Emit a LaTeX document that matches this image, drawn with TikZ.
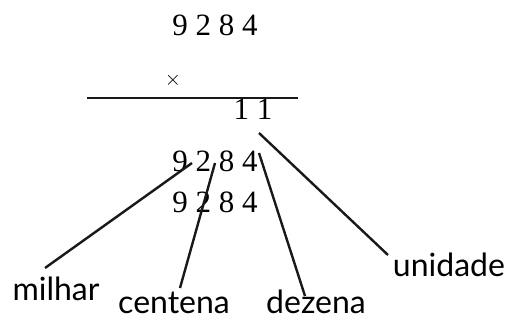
\documentclass[tikz,border=0pt]{standalone}
\usepackage{fontspec}
\setmainfont{Liberation Serif}
\newfontfamily\labfont{Lato}
\begin{document}
\begin{tikzpicture}[x=1pt,y=-1pt,
  num/.style={inner sep=0pt,font=\fontsize{31}{33}\selectfont},
  lab/.style={inner sep=0pt,anchor=base,text depth=0pt,font=\labfont\fontsize{32}{34}\selectfont},
  ln/.style={line width=2.4pt,black!90}]
\useasboundingbox (0,0) rectangle (514,322);
\node[num] (n1) at (215,25) {9 2 8 4};
\node[inner sep=0pt,font=\fontsize{21}{22}\selectfont] (times) at (173,80) {$\times$};
\coordinate (l0) at (87,98);
\coordinate (l1) at (298,98);
\draw[ln] (l0) -- (l1);
\node[num] (n2) at (253,109) {1 1};
\node[num] (n3) at (215,161) {9 2 8 4};
\node[num] (n4) at (215,202) {9 2 8 4};
\node[lab] (milhar) at (56,300) {milhar};
\node[lab] (centena) at (174,313) {centena};
\node[lab] (dezena) at (316,313) {dezena};
\node[lab] (unidade) at (449,276) {unidade};
\coordinate (a1) at (192,163);
\coordinate (a2) at (45,268);
\coordinate (b1) at (215,163);
\coordinate (b2) at (180,288);
\coordinate (c1) at (259,153);
\coordinate (c2) at (305,296);
\coordinate (d1) at (259,133);
\coordinate (d2) at (388,255);
\draw[ln] (a1) -- (a2);
\draw[ln] (b1) -- (b2);
\draw[ln] (c1) -- (c2);
\draw[ln] (d1) -- (d2);
\end{tikzpicture}
\end{document}
